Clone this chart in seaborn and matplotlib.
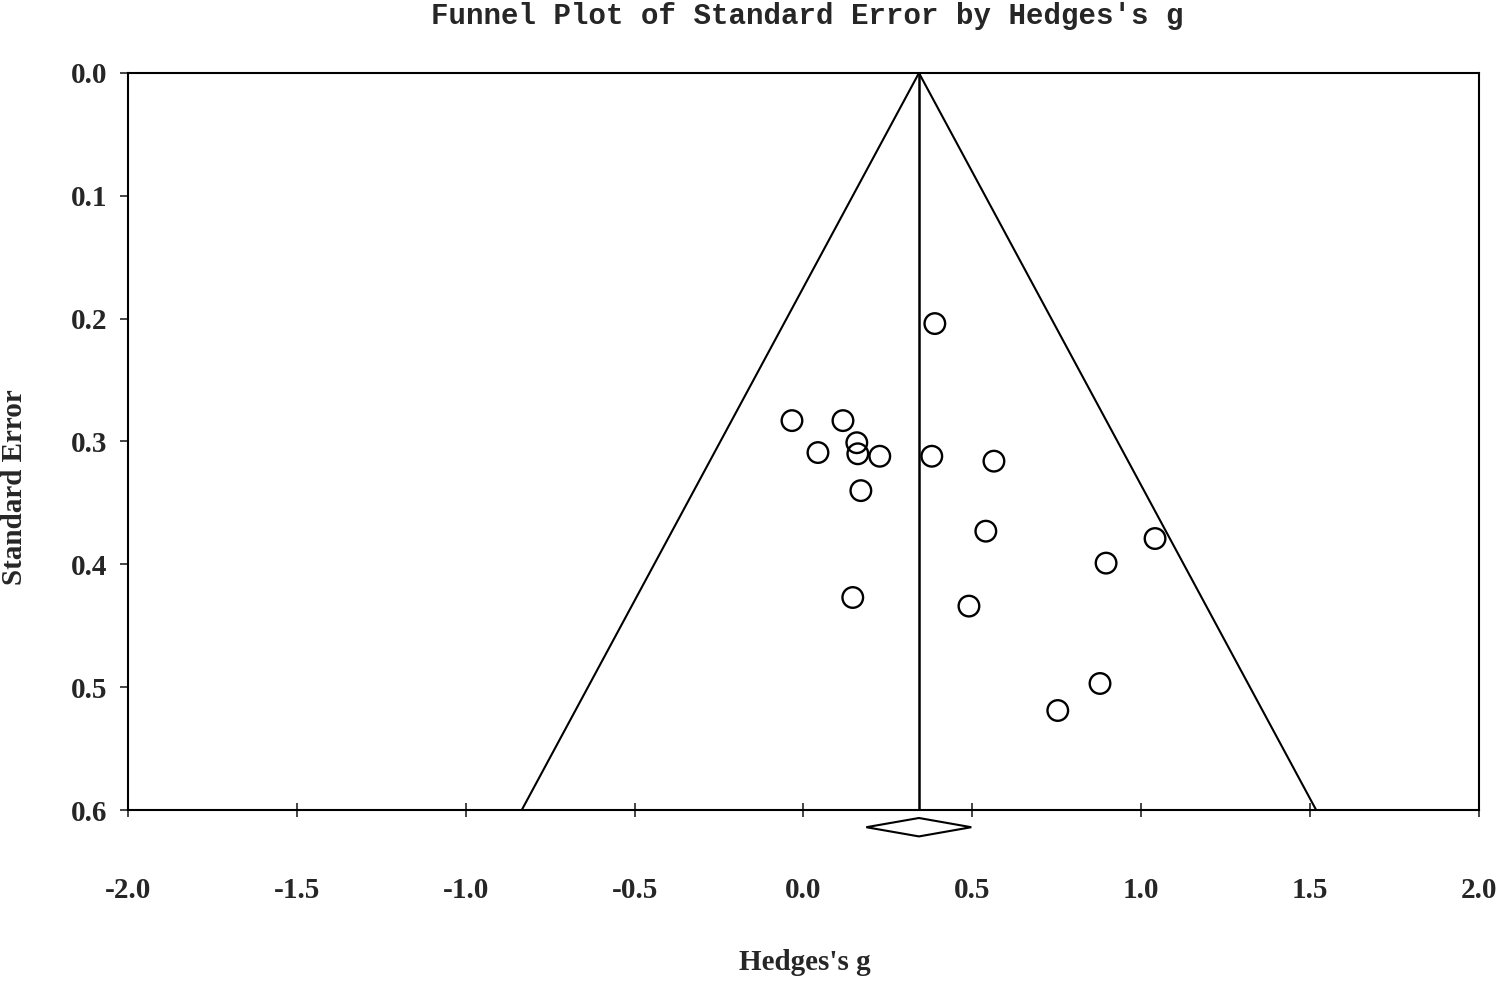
import numpy as np
import pandas as pd
import matplotlib.pyplot as plt
import seaborn as sns

# study effect sizes (Hedges's g) and standard errors
hedges_g = [0.389, -0.034, 0.117, 0.158, 0.043, 0.161, 0.226, 0.380, 0.564,
            0.170, 0.540, 1.041, 0.896, 0.146, 0.490, 0.878, 0.753]
std_err = [0.204, 0.283, 0.283, 0.301, 0.309, 0.310, 0.312, 0.312, 0.316,
           0.340, 0.373, 0.379, 0.399, 0.427, 0.434, 0.497, 0.519]

pooled_g = 0.342
ci_low = 0.186
ci_high = 0.497

x_ticks = [-2.0, -1.5, -1.0, -0.5, 0.0, 0.5, 1.0, 1.5, 2.0]
y_ticks = [0.0, 0.1, 0.2, 0.3, 0.4, 0.5, 0.6]

df = pd.DataFrame({'g': hedges_g, 'se': std_err})

sns.set_style('white')
plt.rcParams['font.family'] = ['Liberation Serif', 'DejaVu Serif']

fig = plt.figure(figsize=(15.05, 9.81), dpi=100)
ax = fig.add_axes([0.0850, 0.1743, 0.8977, 0.7513])

# funnel (pseudo 95% limits)
se_max = 0.6
ax.plot([pooled_g - 1.96 * se_max, pooled_g, pooled_g + 1.96 * se_max],
        [se_max, 0, se_max], color='black', lw=1.5, zorder=2)
ax.plot([pooled_g, pooled_g], [0, se_max], color='black', lw=1.8, zorder=2)

sns.scatterplot(data=df, x='g', y='se', ax=ax, s=220, marker='o',
                facecolor='none', edgecolor='black', linewidth=1.7, zorder=3)

# summary diamond below the axis
dy = 0.0075
d_mid = 0.614
ax.fill([ci_low, pooled_g, ci_high, pooled_g, ci_low],
        [d_mid, d_mid - dy, d_mid, d_mid + dy, d_mid],
        facecolor='white', edgecolor='black', lw=1.5, clip_on=False, zorder=4)

ax.set_xlim(-2.0, 2.0)
ax.set_ylim(0.6, 0.0)
ax.set_xticks(x_ticks)
ax.set_xticklabels([f'{v:.1f}' for v in x_ticks])
ax.set_yticks(y_ticks)
ax.set_yticklabels([f'{v:.1f}' for v in y_ticks])
ax.set_xlabel('')
ax.set_ylabel('')

for s in ax.spines.values():
    s.set_color('black')
    s.set_linewidth(1.5)

ax.tick_params(axis='x', direction='inout', length=10, width=1.2,
               pad=43, labelsize=21, bottom=True)
ax.tick_params(axis='y', direction='out', length=6, width=1.2,
               pad=9, labelsize=21, left=True)
for lbl in ax.get_xticklabels() + ax.get_yticklabels():
    lbl.set_fontweight('bold')

fig.text(805 / 1505, 1 - 962 / 981, "Hedges's g", fontsize=21,
         fontweight='bold', ha='center', va='center')
fig.text(15 / 1505, 1 - 487 / 981, 'Standard Error', fontsize=21,
         fontweight='bold', ha='center', va='center', rotation=90)
fig.text(807 / 1505, 1 - 16 / 981, "Funnel Plot of Standard Error by Hedges's g",
         fontsize=21, fontweight='bold', family='Liberation Mono',
         ha='center', va='center')

fig.savefig('out.png', dpi=100)
